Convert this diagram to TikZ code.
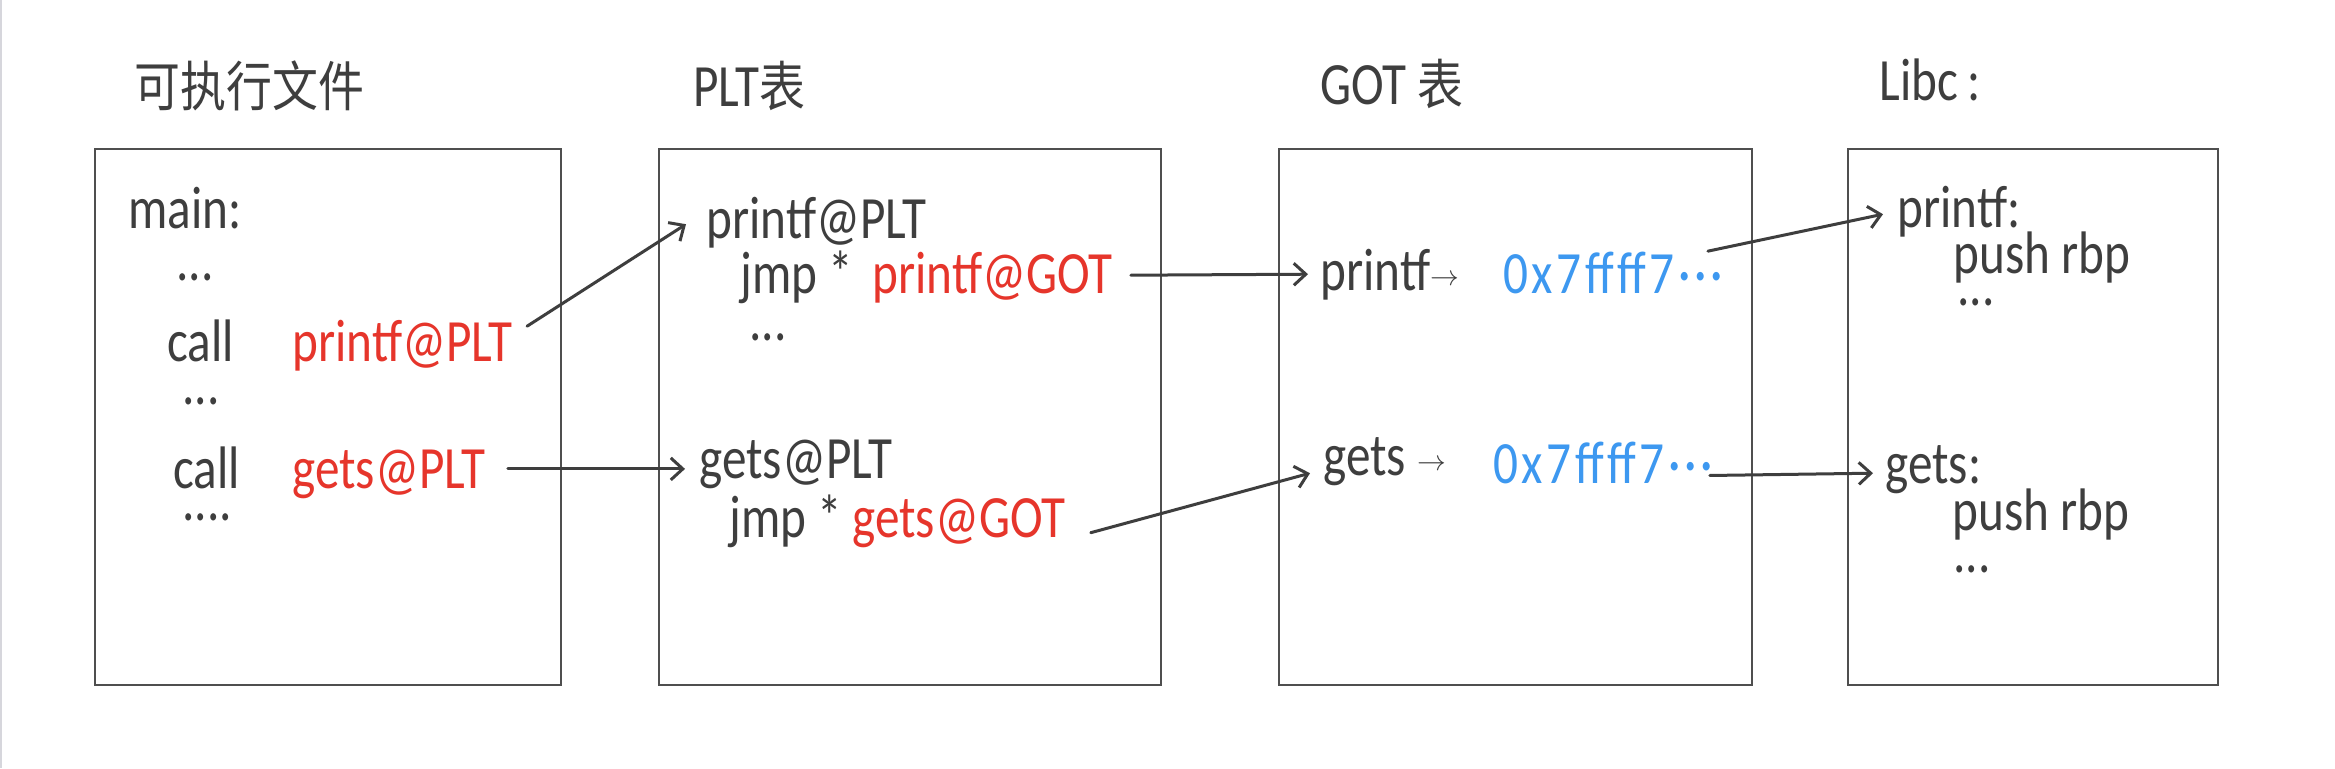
\documentclass[tikz,border=0pt]{standalone}
\usepackage{fontspec}
\setmainfont{Carlito}[FakeStretch=0.82]
\newfontfamily\cjk{Noto Sans CJK SC}[FakeStretch=0.85,Scale=0.9]
\usetikzlibrary{arrows.meta}
\definecolor{ink}{HTML}{3E3E3E}
\definecolor{frame}{HTML}{4F4F4F}
\definecolor{hot}{HTML}{E6352B}
\definecolor{addr}{HTML}{3D98F0}
\definecolor{edge}{HTML}{D6D6DC}
\tikzset{
  panel/.style={draw=frame, line width=1.2pt},
  hand/.style={text=ink, font=\fontsize{30}{36}\selectfont, inner sep=0pt, anchor=base west},
  sym/.style={hand, text=hot},
  hex/.style={hand, text=addr, font=\fontsize{30}{36}\selectfont\addfontfeature{LetterSpace=6}},
  link/.style={draw=ink, line width=1.5pt, line cap=round, -{Straight Barb[length=6pt,width=11pt,line width=1.5pt]}},
}
\newcommand{\smallto}{\raisebox{2.5pt}{\fontsize{14}{16}\selectfont$\rightarrow$}}

\begin{document}
\begin{tikzpicture}[x=0.5pt,y=-0.5pt]
  \useasboundingbox (0,0) rectangle (2335,768);
  \fill[white] (0,0) rectangle (2335,768);
  \draw[edge, line width=1pt] (1,0) -- (1,768);
  % titles
  \node[hand] (tExe) at (134,106) {\cjk 可执行文件};
  \node[hand] (tPlt) at (693,106) {PLT\cjk 表};
  \node[hand] (tGot) at (1320,104) {GOT \cjk 表};
  \node[hand] (tLibc) at (1879,100) {Libc\,:};
  % the four panels
  \draw[panel] (95,149) rectangle (561,685);
  \draw[panel] (659,149) rectangle (1161,685);
  \draw[panel] (1279,149) rectangle (1752,685);
  \draw[panel] (1848,149) rectangle (2218,685);
  % executable
  \node[hand] (mainLbl) at (128,228) {main:};
  \node[hand] (dotsA) at (176,280) {...};
  \node[hand] (callA) at (167,361) {call};
  \node[sym] (callPrintf) at (292,361) {printf@PLT};
  \node[hand] (dotsB) at (182,404) {...};
  \node[hand] (callB) at (173,488) {call};
  \node[sym] (callGets) at (292,488) {gets@PLT};
  \node[hand] (dotsC) at (182,520) {....};
  % plt
  \node[hand] (pltPrintf) at (706,238) {printf@PLT};
  \node[hand] (jmpA) at (740,293) {jmp *};
  \node[sym] (gotRefA) at (872,293) {printf@GOT};
  \node[hand] (dotsD) at (749,340) {...};
  \node[hand] (pltGets) at (699,478) {gets@PLT};
  \node[hand] (jmpB) at (729,537) {jmp *};
  \node[sym] (gotRefB) at (852,537) {gets@GOT};
  % got
  \node[hand] (gotPrintf) at (1320,290) {printf\smallto};
  \node[hex] (addrA) at (1503,293) {0x7ffff7···};
  \node[hand] (gotGets) at (1323,475) {gets \smallto};
  \node[hex] (addrB) at (1493,483) {0x7ffff7···};
  % libc
  \node[hand] (libPrintf) at (1897,227) {printf:};
  \node[hand] (pushA) at (1953,273) {push rbp};
  \node[hand] (dotsE) at (1957,305) {...};
  \node[hand] (libGets) at (1885,483) {gets:};
  \node[hand] (pushB) at (1952,530) {push rbp};
  \node[hand] (dotsF) at (1953,572) {...};
  % calls and jumps
  \draw[link] ([shift={(14,-19)}]callPrintf.east) -- ([shift={(-20,2)}]pltPrintf.west);
  \draw[link] ([shift={(22,-5)}]callGets.east) -- ([shift={(-14,5)}]pltGets.west);
  \draw[link] ([shift={(18,-2)}]gotRefA.east) -- ([shift={(-12,0)}]gotPrintf.west);
  \draw[link] ([shift={(25,10)}]gotRefB.east) -- ([shift={(-13,12)}]gotGets.west);
  \draw[link] ([shift={(-15,0)}]addrA.north east) -- ([shift={(-14,3)}]libPrintf.west);
  \draw[link] ([shift={(-3,13)}]addrB.east) -- ([shift={(-12,4)}]libGets.west);
\end{tikzpicture}
\end{document}
